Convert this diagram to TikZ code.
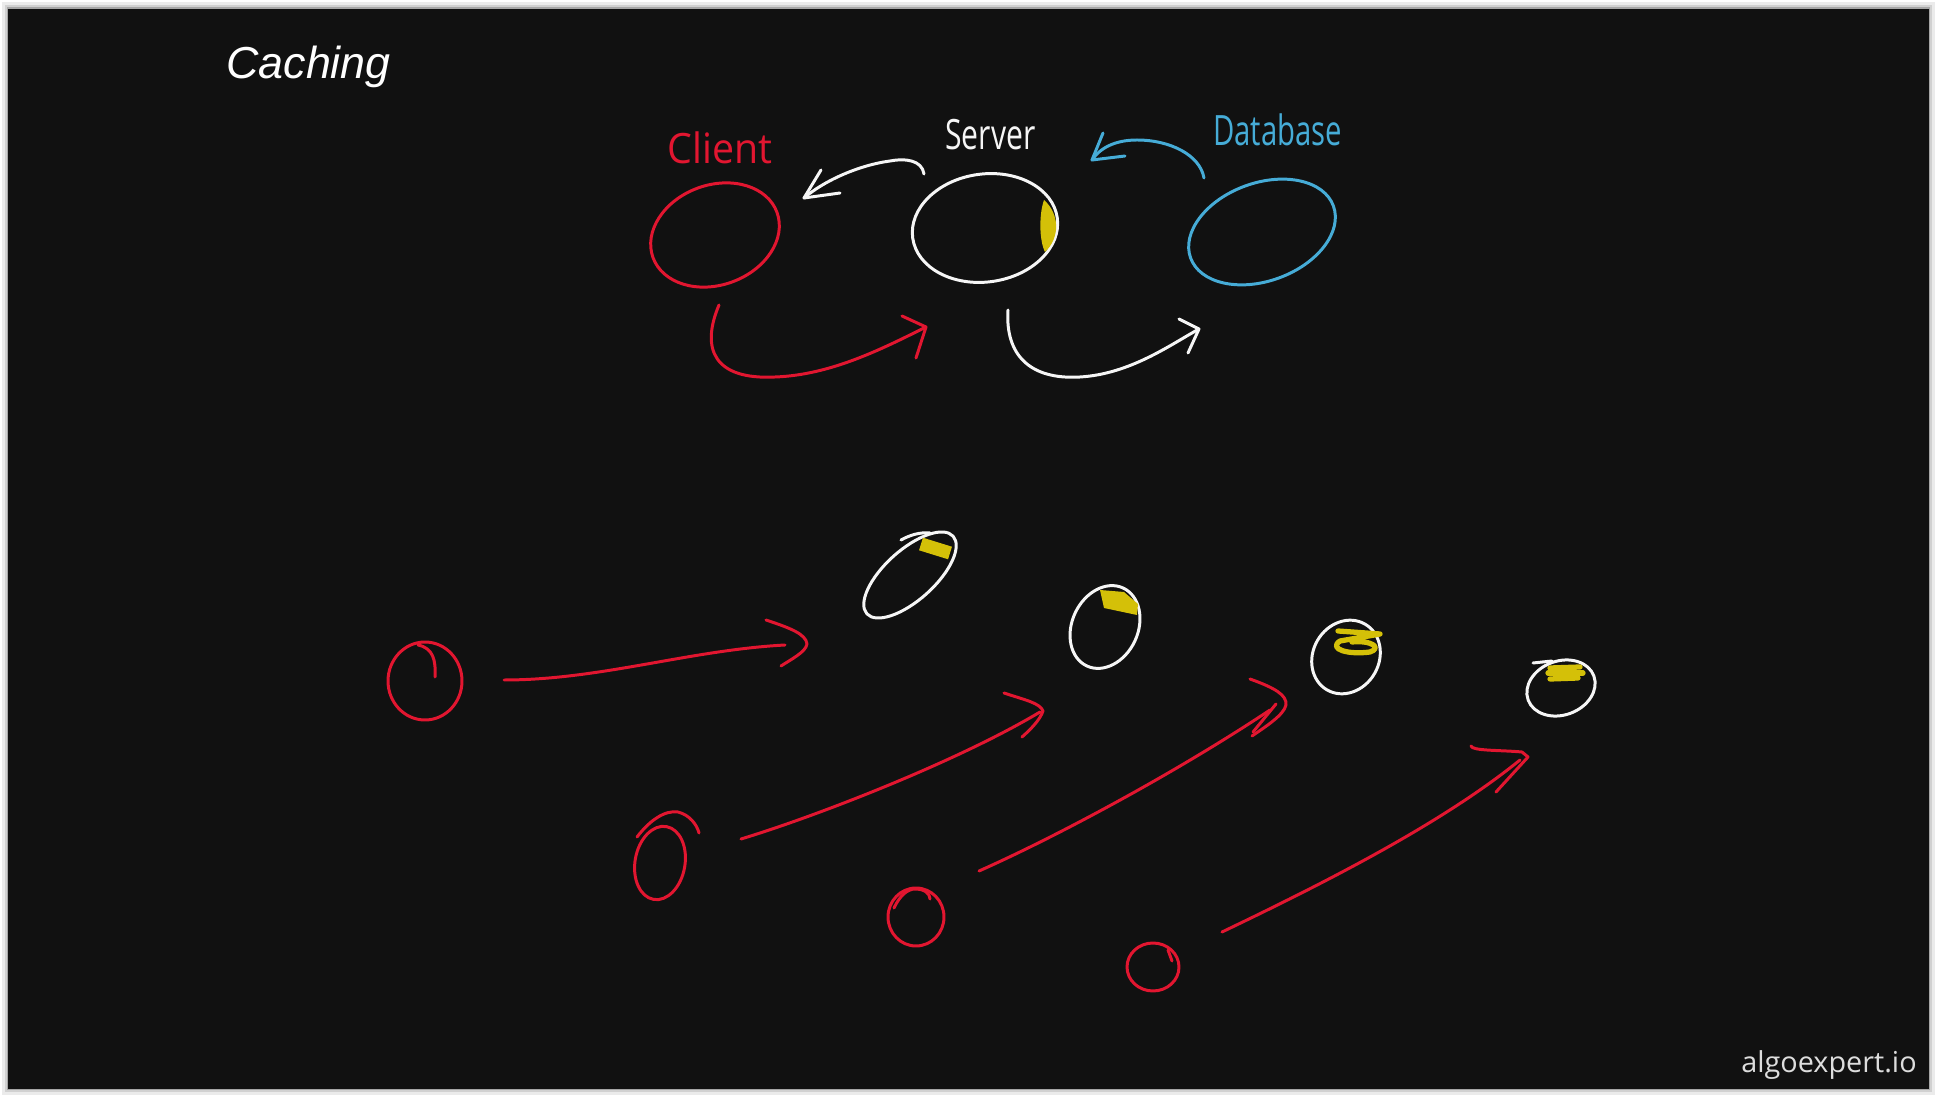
\documentclass[tikz,border=0pt]{standalone}
\usepackage{fontspec}
\setmainfont{Open Sans}
\newfontfamily\titlefont{Liberation Sans}
\usetikzlibrary{shapes.geometric}
\definecolor{bg}{RGB}{17,17,17}
\definecolor{pred}{RGB}{226,22,48}
\definecolor{pblue}{RGB}{70,172,215}
\definecolor{pyel}{RGB}{212,192,8}
\definecolor{pwhite}{RGB}{246,246,246}
\begin{document}
\begin{tikzpicture}[x=0.02cm,y=-0.02cm,
  pen/.style={line width=1.7pt, line cap=round, line join=round},
  blob/.style={ellipse, draw, pen, inner sep=0pt, outer sep=0pt},
  marker/.style={pyel, line width=3pt, line cap=round, line join=round},
  label/.style={inner sep=0pt, font=\fontsize{23.8}{28}\selectfont}]
\useasboundingbox (0,0) rectangle (1937,1097);
% page and shadow
\fill[white] (0,0) rectangle (1937,1097);
\fill[black!8] (2,2) rectangle (1935,1095);
\fill[black!18] (5,5) rectangle (1932,1092);
\fill[black!35] (7,7) rectangle (1930,1090);
\fill[bg] (8,9) rectangle (1929,1089);
% title and footer
\node[anchor=base west, inner sep=0pt, text=white, font=\titlefont\itshape\fontsize{25.5}{30}\selectfont] (title) at (226,79) {Caching};
\node[anchor=base east, inner sep=0pt, text=pwhite!90!black, font=\fontsize{16.4}{20}\selectfont] (footer) at (1917,1072) {algoexpert.io};
% top labels
\node[label, anchor=base west, text=pred] (lclient) at (667,164) {\scalebox{0.94}[1]{Client}};
\node[label, anchor=base west, text=pwhite] (lserver) at (945,150) {\scalebox{0.72}[1]{Server}};
\node[label, anchor=base west, text=pblue] (ldb) at (1213,146) {\scalebox{0.70}[1]{Database}};
% top circles
\node[blob, pred, minimum width=2.64cm, minimum height=2cm, rotate=20] (client) at (715,235) {};
\node[blob, pwhite, minimum width=2.92cm, minimum height=2.16cm, rotate=8] (server) at (985,228) {};
\node[blob, pblue, minimum width=3.04cm, minimum height=1.96cm, rotate=20] (db) at (1262,232) {};
\fill[pyel] (1044,200) .. controls (1060,214) and (1060,238) .. (1045,252) .. controls (1039,240) and (1039,214) .. cycle;
% top arrows: coordinates
\coordinate (r1s) at (719,305); \coordinate (r1m) at (775,377); \coordinate (r1t) at (926,327);
\coordinate (r1a) at (902,316); \coordinate (r1b) at (916,358);
\coordinate (w1s) at (1008,310); \coordinate (w1m) at (1080,377); \coordinate (w1t) at (1199,329);
\coordinate (w1a) at (1179,319); \coordinate (w1b) at (1188,353);
\coordinate (w2s) at (924,174); \coordinate (w2m) at (890,161); \coordinate (w2t) at (804,198);
\coordinate (w2a) at (821,170); \coordinate (w2b) at (840,193);
\coordinate (b1s) at (1204,178); \coordinate (b1m) at (1137,140); \coordinate (b1t) at (1092,160);
\coordinate (b1a) at (1103,133); \coordinate (b1b) at (1125,156);
\draw[pen, pred] (r1s) .. controls (700,350) and (715,380) .. (r1m) .. controls (830,375) and (880,350) .. (r1t);
\draw[pen, pred] (r1a) -- (r1t) -- (r1b);
\draw[pen, pwhite] (w1s) .. controls (1005,355) and (1030,380) .. (w1m) .. controls (1130,374) and (1170,345) .. (w1t);
\draw[pen, pwhite] (w1a) -- (w1t) -- (w1b);
\draw[pen, pwhite] (w2s) .. controls (922,160) and (905,158) .. (w2m) .. controls (860,165) and (825,180) .. (w2t);
\draw[pen, pwhite] (w2a) -- (w2t) -- (w2b);
\draw[pen, pblue] (b1s) .. controls (1200,155) and (1170,140) .. (b1m) .. controls (1115,140) and (1100,148) .. (b1t);
\draw[pen, pblue] (b1a) -- (b1t) -- (b1b);
% bottom clients
\node[blob, pred, minimum width=1.48cm, minimum height=1.56cm] (c1) at (425,681) {};
\draw[pen, pred] (435,677) .. controls (436,660) and (433,648) .. (418,645);
\node[blob, pred, minimum width=1.0cm, minimum height=1.48cm, rotate=-10] (c2) at (660,863) {};
\draw[pen, pred] (637,837) .. controls (650,820) and (665,810) .. (678,812) .. controls (690,815) and (697,825) .. (699,833);
\node[blob, pred, minimum width=1.12cm, minimum height=1.16cm] (c3) at (916,917) {};
\draw[pen, pred] (894,908) .. controls (900,895) and (908,889) .. (915,889) .. controls (924,889) and (930,893) .. (930,899);
\node[blob, pred, minimum width=1.04cm, minimum height=0.96cm] (c4) at (1153,967) {};
\draw[pen, pred] (1172,961) -- (1168,950);
% bottom servers
\node[blob, pwhite, minimum width=2.32cm, minimum height=1.0cm, rotate=42] (s1) at (910,575) {};
\draw[pen, pwhite] (901,540) .. controls (910,535) and (920,532) .. (930,533);
\draw[pyel, line width=7.5pt] (921,544) -- (950,553);
\node[blob, pwhite, minimum width=1.72cm, minimum height=1.32cm, rotate=65] (s2) at (1105,627) {};
\fill[pyel] (1100,590) -- (1124,592) -- (1138,604) -- (1137,615) -- (1104,608) -- cycle;
\node[blob, pwhite, minimum width=1.52cm, minimum height=1.32cm, rotate=60] (s3) at (1346,657) {};
\draw[marker] (1338,631) -- (1380,634) -- (1340,641) .. controls (1328,649) and (1348,655) .. (1370,652) .. controls (1382,648) and (1372,640) .. (1352,642);
\node[blob, pwhite, minimum width=1.4cm, minimum height=1.08cm, rotate=20] (s4) at (1561,688) {};
\draw[pen, pwhite] (1533,663) -- (1552,661);
\draw[marker] (1550,668) -- (1580,667);
\draw[marker] (1548,673) -- (1583,673);
\draw[marker] (1550,679) -- (1578,678);
% bottom arrows
\coordinate (a1s) at (504,680); \coordinate (a1t) at (807,644);
\coordinate (a1a) at (766,620); \coordinate (a1b) at (781,666);
\draw[pen, pred] (a1s) .. controls (600,680) and (690,650) .. (785,645);
\draw[pen, pred] (a1a) .. controls (790,628) and (806,634) .. (a1t) .. controls (806,652) and (790,660) .. (a1b);
\coordinate (a2s) at (741,839); \coordinate (a2t) at (1043,711);
\coordinate (a2a) at (1004,693); \coordinate (a2b) at (1022,737);
\draw[pen, pred] (a2s) .. controls (820,815) and (960,760) .. (1040,712);
\draw[pen, pred] (a2a) .. controls (1025,700) and (1040,703) .. (a2t) .. controls (1040,720) and (1030,730) .. (a2b);
\coordinate (a3s) at (979,871); \coordinate (a3t) at (1286,705);
\coordinate (a3a) at (1250,679); \coordinate (a3b) at (1252,736);
\draw[pen, pred] (a3s) .. controls (1060,835) and (1180,770) .. (1270,710);
\draw[pen, pred] (a3a) .. controls (1275,688) and (1287,695) .. (a3t) .. controls (1284,715) and (1265,727) .. (a3b);
\draw[pen, pred] (1276,704) -- (1253,732);
\coordinate (a4s) at (1222,932); \coordinate (a4t) at (1528,757);
\coordinate (a4a) at (1471,746); \coordinate (a4b) at (1496,792);
\draw[pen, pred] (a4s) .. controls (1320,885) and (1440,825) .. (1520,760);
\draw[pen, pred] (a4a) .. controls (1472,751) and (1500,750) .. (1522,752) -- (a4t) -- (a4b);
\end{tikzpicture}
\end{document}
